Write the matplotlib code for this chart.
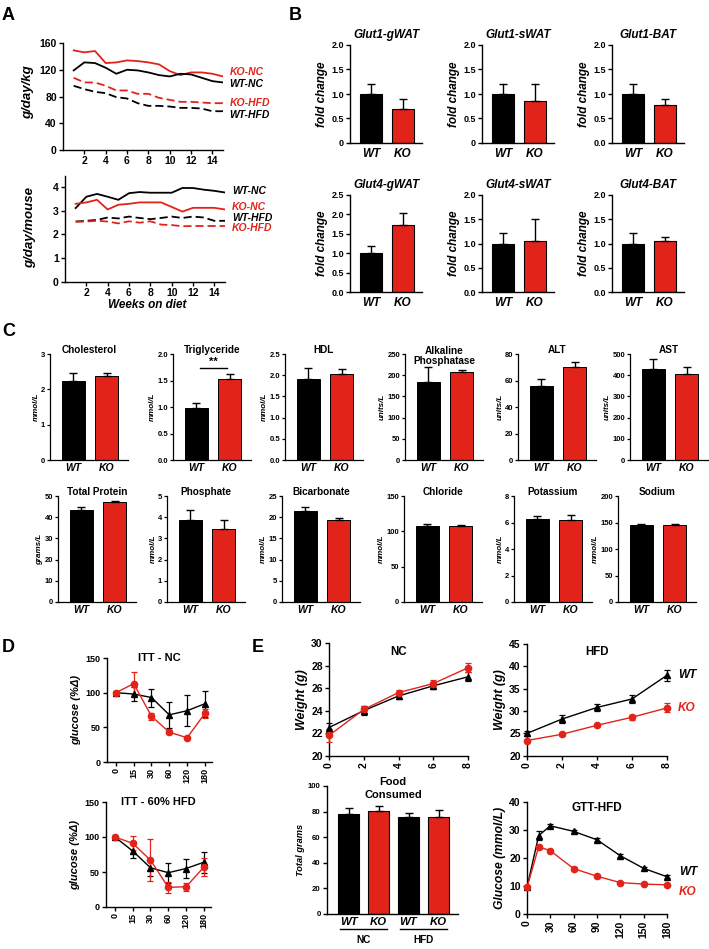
import matplotlib
matplotlib.use('Agg')
import matplotlib.pyplot as plt
import matplotlib.transforms as mtrans
import numpy as np

plt.rcParams['font.family'] = ['Liberation Sans', 'DejaVu Sans']
plt.rcParams['font.weight'] = 'bold'
plt.rcParams['axes.labelweight'] = 'bold'
plt.rcParams['axes.linewidth'] = 1.0

RED = '#e2231a'
W, H = 709, 949

# ── A: food intake ────────────────────────────────────────────────
weeks = list(range(1, 16))
kg_ko_nc = [149, 146, 148, 130, 131, 134, 133, 131, 128, 118, 112, 116, 116, 114, 110]
kg_wt_nc = [119, 131, 130, 123, 114, 120, 119, 116, 112, 110, 114, 113, 108, 103, 101]
kg_ko_hfd = [108, 101, 101, 96, 89, 89, 84, 84, 78, 75, 72, 72, 71, 70, 70]
kg_wt_hfd = [96, 91, 87, 85, 79, 77, 70, 66, 66, 65, 63, 63, 62, 58, 58]
mouse_wt_nc = [3.12, 3.6, 3.72, 3.6, 3.47, 3.75, 3.8, 3.77, 3.77, 3.77, 3.97, 3.97, 3.9, 3.85, 3.78]
mouse_ko_nc = [3.3, 3.36, 3.47, 3.06, 3.26, 3.3, 3.36, 3.36, 3.36, 3.17, 2.97, 3.13, 3.13, 3.13, 3.06]
mouse_wt_hfd = [2.55, 2.58, 2.62, 2.72, 2.68, 2.76, 2.7, 2.65, 2.7, 2.76, 2.7, 2.76, 2.72, 2.58, 2.58]
mouse_ko_hfd = [2.54, 2.55, 2.58, 2.55, 2.47, 2.56, 2.5, 2.56, 2.42, 2.4, 2.35, 2.36, 2.36, 2.36, 2.36]

# ── B: Glut expression ────────────────────────────────────────────
groups = ['WT', 'KO']
b_titles = ['Glut1-gWAT', 'Glut1-sWAT', 'Glut1-BAT', 'Glut4-gWAT', 'Glut4-sWAT', 'Glut4-BAT']
b_wt = [1.0, 1.0, 1.0, 1.0, 1.0, 1.0]
b_wt_err = [0.21, 0.21, 0.2, 0.19, 0.22, 0.21]
b_ko = [0.7, 0.85, 0.78, 1.72, 1.06, 1.06]
b_ko_err = [0.2, 0.36, 0.11, 0.31, 0.44, 0.08]
b_ymax = [2.0, 2.0, 2.0, 2.5, 2.0, 2.0]
b_zero = ['0', '0', '0.0', '0.0', '0.0', '0.0']

# ── C: serum chemistry ────────────────────────────────────────────
c_titles = ['Cholesterol', 'Triglyceride', 'HDL', 'Alkaline\nPhosphatase', 'ALT', 'AST',
            'Total Protein', 'Phosphate', 'Bicarbonate', 'Chloride', 'Potassium', 'Sodium']
c_units = ['mmol/L', 'mmol/L', 'mmol/L', 'units/L', 'units/L', 'units/L',
           'grams/L', 'mmol/L', 'mmol/L', 'mmol/L', 'mmol/L', 'mmol/L']
c_wt = [2.23, 0.98, 1.9, 183, 55.5, 428, 43.5, 3.85, 21.4, 108, 6.3, 146]
c_wt_err = [0.22, 0.1, 0.26, 36, 5.5, 47, 1.2, 0.5, 1.0, 2, 0.22, 1.5]
c_ko = [2.37, 1.52, 2.04, 208, 70, 408, 47.2, 3.42, 19.3, 107, 6.2, 145]
c_ko_err = [0.09, 0.1, 0.1, 5, 4, 32, 0.6, 0.45, 0.4, 1.5, 0.35, 1.5]
c_ymax = [3, 2.0, 2.5, 250, 80, 500, 50, 5, 25, 150, 8, 200]
c_ystep = [1, 0.5, 0.5, 50, 20, 100, 10, 1, 5, 50, 2, 50]

# ── D: ITT ────────────────────────────────────────────────────────
itt_t = ['0', '15', '30', '60', '120', '180']
itt_nc_wt = [100, 98, 93, 68, 74, 84]
itt_nc_wt_err = [2, 10, 13, 19, 22, 19]
itt_nc_ko = [100, 113, 66, 43, 35, 70]
itt_nc_ko_err = [1, 17, 5, 3, 2, 6]
itt_hfd_wt = [100, 80, 56, 49, 55, 64]
itt_hfd_wt_err = [2, 10, 12, 14, 13, 15]
itt_hfd_ko = [100, 91, 67, 28, 29, 57]
itt_hfd_ko_err = [1, 10, 30, 8, 6, 13]

# ── E: weight, food, GTT ──────────────────────────────────────────
wk = [0, 2, 4, 6, 8]
nc_wt = [22.5, 24.0, 25.3, 26.2, 27.0]
nc_wt_err = [0.4, 0.4, 0.3, 0.3, 0.4]
nc_ko = [21.8, 24.1, 25.6, 26.4, 27.8]
nc_ko_err = [0.6, 0.3, 0.2, 0.3, 0.4]
hfd_wt = [25.0, 28.2, 30.8, 32.7, 38.0]
hfd_wt_err = [0.5, 0.8, 0.8, 0.9, 1.2]
hfd_ko = [23.4, 24.8, 26.8, 28.6, 30.7]
hfd_ko_err = [0.4, 0.3, 0.4, 0.5, 1.0]
food_labels = ['WT', 'KO', 'WT', 'KO']
food_groups = ['NC', 'HFD']
food_vals = [78, 80.5, 76, 75.5]
food_err = [5, 3.5, 3, 6]
gtt_t = [0, 15, 30, 60, 90, 120, 150, 180]
gtt_wt = [9.5, 28, 31.5, 29.5, 26.5, 20.8, 16.3, 13.3]
gtt_wt_err = [0.5, 1.5, 0.6, 0.6, 0.6, 0.5, 0.5, 0.5]
gtt_ko = [9.5, 24, 22.6, 16.2, 13.5, 11.2, 10.7, 10.4]
gtt_ko_err = [0.5, 0.8, 0.6, 0.5, 0.5, 0.4, 0.4, 0.4]

fig = plt.figure(figsize=(W / 100, H / 100), dpi=100)


def mk(l, t, r, b, fs, lw=1.0):
    ax = fig.add_axes([l / W, 1 - b / H, (r - l) / W, (b - t) / H])
    ax.spines[['top', 'right']].set_visible(False)
    ax.spines[['left', 'bottom']].set_linewidth(lw)
    ax.tick_params(labelsize=fs, length=3, width=lw, pad=1.5)
    return ax


def ftext(x, y, s, **kw):
    kw.setdefault('ha', 'center')
    kw.setdefault('va', 'center')
    fig.text(x / W, 1 - y / H, s, **kw)


BI = dict(style='italic', weight='bold')

for lab, x, y in [('A', 2, 15), ('B', 289, 15), ('C', 2, 332), ('D', 2, 647), ('E', 252, 647)]:
    ftext(x, y, lab, ha='left', fontsize=13)

# ── A ─────────────────────────────────────────────────────────────
dash = (0, (4.5, 2.2))
ax = mk(63, 43, 223, 150, 7.5)
ax.plot(weeks, kg_ko_nc, color=RED, lw=1.3)
ax.plot(weeks, kg_wt_nc, color='black', lw=1.3)
ax.plot(weeks, kg_ko_hfd, color=RED, lw=1.3, ls=dash)
ax.plot(weeks, kg_wt_hfd, color='black', lw=1.3, ls=dash)
ax.set_xlim(0, 15)
ax.set_ylim(0, 160)
ax.set_xticks(range(2, 15, 2))
ax.set_yticks(range(0, 161, 40))
for lab, col, yf in [('KO-NC', RED, 0.729), ('WT-NC', 'black', 0.617),
                     ('KO-HFD', RED, 0.44), ('WT-HFD', 'black', 0.327)]:
    ax.text(1.04, yf, lab, transform=ax.transAxes, color=col, fontsize=7.5, va='center', **BI)
ftext(28, 92, 'g/day/kg', rotation=90, fontsize=9.5, **BI)

ax = mk(65, 175.5, 225, 281.7, 7.5)
ax.plot(weeks, mouse_wt_nc, color='black', lw=1.3)
ax.plot(weeks, mouse_ko_nc, color=RED, lw=1.3)
ax.plot(weeks, mouse_wt_hfd, color='black', lw=1.3, ls=dash)
ax.plot(weeks, mouse_ko_hfd, color=RED, lw=1.3, ls=dash)
ax.set_xlim(0, 15)
ax.set_ylim(0, 4.5)
ax.set_xticks(range(2, 15, 2))
ax.set_yticks(range(0, 5))
for lab, col, yf in [('WT-NC', 'black', 0.854), ('KO-NC', RED, 0.703),
                     ('WT-HFD', 'black', 0.6), ('KO-HFD', RED, 0.506)]:
    ax.text(1.044, yf, lab, transform=ax.transAxes, color=col, fontsize=7.5, va='center', **BI)
ftext(30, 228, 'g/day/mouse', rotation=90, fontsize=9.5, **BI)
ftext(147, 305, 'Weeks on diet', fontsize=8.5, **BI)

# ── B ─────────────────────────────────────────────────────────────
b_left = [350, 482, 612]
b_rows = [(45, 143), (195, 292)]
for i in range(6):
    l = b_left[i % 3]
    t, b = b_rows[i // 3]
    ax = mk(l, t, l + 72, b, 6.5)
    vals = [b_wt[i], b_ko[i]]
    ax.bar([0, 1], vals, width=0.7, color=['black', RED], edgecolor='black', lw=0.8)
    ax.errorbar([0, 1], vals, yerr=[[0, 0], [b_wt_err[i], b_ko_err[i]]], fmt='none',
                ecolor='black', elinewidth=1, capsize=3, capthick=1)
    ax.set_xlim(-0.67, 1.62)
    ax.set_ylim(0, b_ymax[i])
    ticks = np.arange(0, b_ymax[i] + 0.01, 0.5)
    ax.set_yticks(ticks, [b_zero[i]] + ['%.1f' % v for v in ticks[1:]])
    ax.set_xticks([0, 1], groups, fontsize=8.5, style='italic')
    ax.tick_params(axis='x', length=0, pad=3.5)
    ax.set_ylabel('fold change', fontsize=8.5, style='italic', labelpad=2)
    ax.text(0.5, 1 + 10 / 98, b_titles[i], transform=ax.transAxes, ha='center', va='center',
            fontsize=8.5, **BI)

# ── C ─────────────────────────────────────────────────────────────
c_left = [50, 173, 285, 405, 518, 630, 58, 167, 282, 404, 514, 618]
c_rows = [(354, 460), (496, 602)]
for i in range(12):
    l = c_left[i]
    t, b = c_rows[i // 6]
    ax = mk(l, t, l + 78, b, 5.5, lw=0.9)
    ax.tick_params(axis='y', length=2)
    vals = [c_wt[i], c_ko[i]]
    ax.bar([0, 1], vals, width=0.69, color=['black', RED], edgecolor='black', lw=0.7)
    ax.errorbar([0, 1], vals, yerr=[[0, 0], [c_wt_err[i], c_ko_err[i]]], fmt='none',
                ecolor='black', elinewidth=1, capsize=3, capthick=1)
    ax.set_xlim(-0.70, 1.63)
    ax.set_ylim(0, c_ymax[i])
    ticks = np.arange(0, c_ymax[i] + c_ystep[i] / 100, c_ystep[i])
    fmt = '%.1f' if c_ystep[i] < 1 else '%d'
    ax.set_yticks(ticks, [fmt % v for v in ticks])
    ax.set_xticks([0, 1], groups, fontsize=7.5, style='italic')
    ax.tick_params(axis='x', length=0, pad=2.5)
    ax.set_ylabel(c_units[i], fontsize=5.8, style='italic', labelpad=1)
    if '\n' in c_titles[i]:
        ax.text(0.5, 1 - 1.5 / 106, c_titles[i], transform=ax.transAxes, ha='center',
                va='center', fontsize=7.2, linespacing=1.0)
    else:
        ax.text(0.5, 1 + 4 / 106, c_titles[i], transform=ax.transAxes, ha='center',
                va='center', fontsize=7.2)
    if c_titles[i] == 'Triglyceride':
        top = max(c_wt[i] + c_wt_err[i], c_ko[i] + c_ko_err[i])
        ax.plot([0.1, 0.9], [top + 0.12, top + 0.12], color='black', lw=1, clip_on=False)
        ax.text(0.5, top + 0.13, '**', ha='center', va='bottom', fontsize=8)

# ── D ─────────────────────────────────────────────────────────────
def itt(l, t, r, b, wt, wte, ko, koe, title):
    ax = mk(l, t, r, b, 6.5)
    x = np.arange(len(itt_t))
    ax.errorbar(x, wt, yerr=wte, color='black', marker='^', ms=4, lw=1,
                elinewidth=0.9, capsize=2.5, capthick=0.9, clip_on=False)
    ax.errorbar(x, ko, yerr=koe, color=RED, marker='o', ms=4.5, lw=1,
                elinewidth=0.9, capsize=2.5, capthick=0.9, clip_on=False)
    ax.set_xlim(-0.5, 5.4)
    ax.set_ylim(0, 150)
    ax.set_yticks([0, 50, 100, 150])
    ax.set_xticks(x, itt_t, rotation=90)
    ax.set_ylabel('glucose (%Δ)', fontsize=8, style='italic', labelpad=3)
    ax.text(0.5, 1.0, title, transform=ax.transAxes, ha='center', va='center', fontsize=8)

itt(107, 658, 212, 762, itt_nc_wt, itt_nc_wt_err, itt_nc_ko, itt_nc_ko_err, 'ITT - NC')
itt(106, 802, 211, 907, itt_hfd_wt, itt_hfd_wt_err, itt_hfd_ko, itt_hfd_ko_err, 'ITT - 60% HFD')

# ── E ─────────────────────────────────────────────────────────────
def wline(ax, x, wt, wte, ko, koe):
    ax.errorbar(x, wt, yerr=wte, color='black', marker='^', ms=4, lw=1,
                elinewidth=0.9, capsize=2.5, capthick=0.9, clip_on=False, zorder=3)
    ax.errorbar(x, ko, yerr=koe, color=RED, marker='o', ms=4.5, lw=1,
                elinewidth=0.9, capsize=2.5, capthick=0.9, clip_on=False, zorder=3)

ax = mk(329, 643, 468, 755.7, 7.5)
wline(ax, wk, nc_wt, nc_wt_err, nc_ko, nc_ko_err)
ax.set_xlim(0, 8)
ax.set_ylim(20, 30)
ax.set_yticks(range(20, 31, 2))
ax.set_xticks(wk, [str(v) for v in wk], rotation=90)
ax.set_ylabel('Weight (g)', fontsize=9, style='italic', labelpad=2)
ax.text(0.5, 1 - 9 / 112, 'NC', transform=ax.transAxes, ha='center', va='center', fontsize=8.3)

ax = mk(527, 644, 667, 755.7, 7.5)
wline(ax, wk, hfd_wt, hfd_wt_err, hfd_ko, hfd_ko_err)
ax.set_xlim(0, 8)
ax.set_ylim(20, 45)
ax.set_yticks(range(20, 46, 5))
ax.set_xticks(wk, [str(v) for v in wk], rotation=90)
ax.set_ylabel('Weight (g)', fontsize=9, style='italic', labelpad=2)
ax.text(0.5, 1 - 8 / 112, 'HFD', transform=ax.transAxes, ha='center', va='center', fontsize=8.3)
ax.text(1.08, 0.72, 'WT', transform=ax.transAxes, va='center', fontsize=8.5, **BI)
ax.text(1.08, 0.43, 'KO', transform=ax.transAxes, va='center', color=RED, fontsize=8.5, **BI)

ax = mk(327, 786, 458, 914, 5.6)
xf = np.arange(len(food_vals))
ax.bar(xf, food_vals, width=0.68, color=['black', RED, 'black', RED], edgecolor='black', lw=0.8)
ax.errorbar(xf, food_vals, yerr=[[0] * len(food_err), food_err], fmt='none', ecolor='black',
            elinewidth=1, capsize=3, capthick=1)
ax.set_xlim(-0.72, 3.65)
ax.set_ylim(0, 100)
ax.set_yticks(range(0, 101, 20))
ax.set_xticks(xf, food_labels, fontsize=8.2, style='italic')
ax.tick_params(axis='x', length=0, pad=2.5)
ax.set_ylabel('Total grams', fontsize=6.7, style='italic', labelpad=2)
tr = mtrans.blended_transform_factory(ax.transData, ax.transAxes)
for k, g in enumerate(food_groups):
    c = 2 * k + 0.5
    ax.plot([c - 0.78, c + 0.78], [-0.115, -0.115], transform=tr, color='black', lw=1, clip_on=False)
    ax.text(c, -0.205, g, transform=tr, ha='center', va='center', fontsize=7.2)
ftext(393, 782, 'Food', fontsize=8)
ftext(393, 795, 'Consumed', fontsize=8)

ax = mk(527, 802, 667, 914, 7.5)
wline(ax, gtt_t, gtt_wt, gtt_wt_err, gtt_ko, gtt_ko_err)
ax.set_xlim(0, 180)
ax.set_ylim(0, 40)
ax.set_yticks(range(0, 41, 10))
ax.set_xticks(range(0, 181, 30), [str(v) for v in range(0, 181, 30)], rotation=90)
ax.set_ylabel('Glucose (mmol/L)', fontsize=8.7, style='italic', labelpad=2)
ax.text(0.5, 1 - 6 / 112, 'GTT-HFD', transform=ax.transAxes, ha='center', va='center', fontsize=8.5)
ax.text(1.086, 0.375, 'WT', transform=ax.transAxes, va='center', fontsize=8.5, **BI)
ax.text(1.086, 0.196, 'KO', transform=ax.transAxes, va='center', color=RED, fontsize=8.5, **BI)

fig.savefig('out.png', dpi=100)
